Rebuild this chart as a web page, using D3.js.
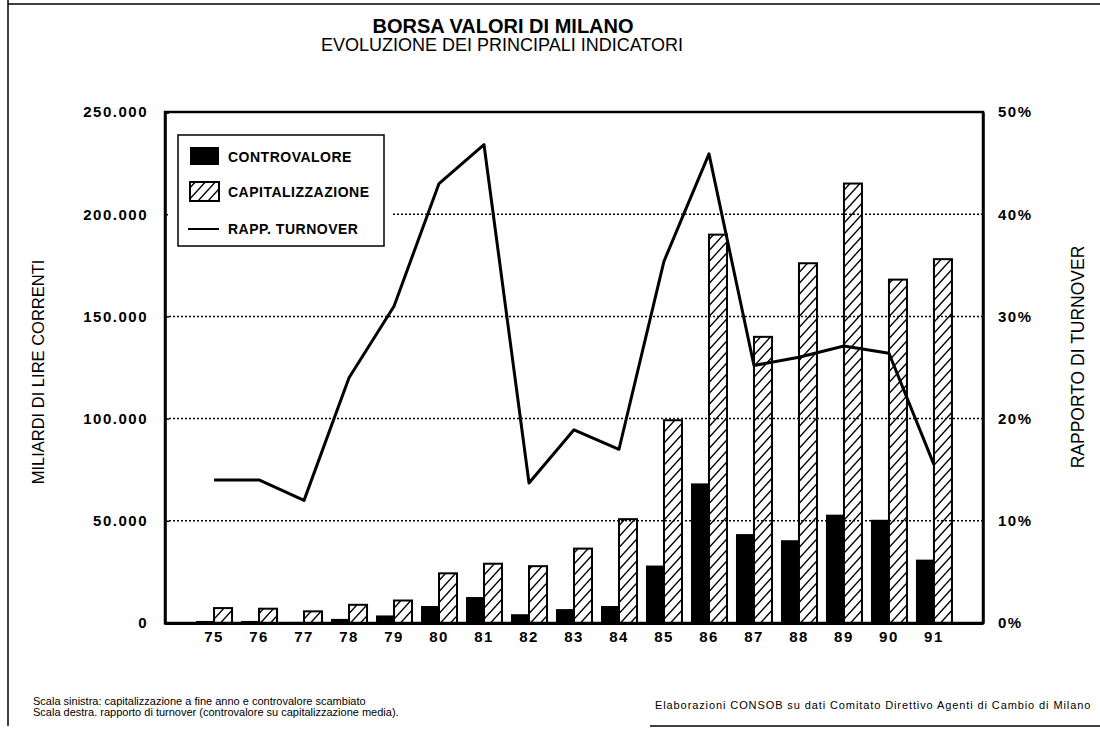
<!DOCTYPE html>
<html>
<head>
<meta charset="utf-8">
<script src="https://cdn.jsdelivr.net/npm/d3@7"></script>
<style>
  body { margin: 0; background: #fff; }
  svg { display: block; font-family: "Liberation Sans", Arial, sans-serif; }
</style>
</head>
<body>
<svg width="1100" height="731"></svg>
<script>
// values
const years = ["75", "76", "77", "78", "79", "80", "81", "82", "83", "84", "85", "86", "87", "88", "89", "90", "91"];
const controvalore = [1000, 1000, 500, 2000, 3700, 8300, 12700, 4300, 6800, 8300, 28100, 68300, 43500, 40500, 53000, 50500, 31000];
const capitalizzazione = [7300, 7000, 5700, 8900, 11000, 24300, 29000, 27800, 36400, 50800, 99200, 190000, 140000, 176000, 215000, 168000, 178000];
const turnover = [14, 14, 12, 24, 31, 43, 46.8, 13.7, 18.9, 17, 35.4, 45.9, 25.2, 26, 27.1, 26.4, 15.5];

const leftTicks = [0, 50000, 100000, 150000, 200000, 250000];
const rightTicks = [0, 10, 20, 30, 40, 50];
const seriesNames = ["CONTROVALORE", "CAPITALIZZAZIONE", "RAPP. TURNOVER"];

const svg = d3.select("svg");
const margin = { top: 112, right: 117, bottom: 108, left: 165 };
const width = 1100 - margin.left - margin.right;
const height = 731 - margin.top - margin.bottom;

const defs = svg.append("defs");
defs.append("pattern")
    .attr("id", "hatch")
    .attr("patternUnits", "userSpaceOnUse")
    .attr("width", 10)
    .attr("height", 11)
  .append("path")
    .attr("d", "M0,11 L10,0 M-2,2 L1,-1 M9,12 L12,9")
    .attr("stroke", "#000")
    .attr("stroke-width", 1.4);

// page frame
svg.append("line").attr("x1", 8).attr("x2", 8).attr("y1", 0).attr("y2", 726).attr("stroke", "#000").attr("stroke-width", 1.5);
svg.append("line").attr("x1", 8).attr("x2", 1100).attr("y1", 4).attr("y2", 4).attr("stroke", "#000").attr("stroke-width", 1.5);
svg.append("line").attr("x1", 650).attr("x2", 1100).attr("y1", 726).attr("y2", 726).attr("stroke", "#000").attr("stroke-width", 1.5);

// titles
svg.append("text")
    .attr("x", 503).attr("y", 33)
    .attr("text-anchor", "middle")
    .style("font-size", "20px").style("font-weight", "bold")
    .text("BORSA VALORI DI MILANO");
svg.append("text")
    .attr("x", 502).attr("y", 51)
    .attr("text-anchor", "middle")
    .style("font-size", "18px")
    .text("EVOLUZIONE DEI PRINCIPALI INDICATORI");

const chart = svg.append("g")
    .attr("transform", `translate(${margin.left},${margin.top})`);

const x = d3.scaleBand().domain(years).range([0, width]).paddingInner(0.2).paddingOuter(0.69);
const xSub = d3.scaleBand().domain(["c", "k"]).range([0, x.bandwidth()]);
const y = d3.scaleLinear().domain([0, 250000]).range([height, 0]);
const yPct = d3.scaleLinear().domain([0, 50]).range([height, 0]);

// dotted grid
chart.selectAll(".grid")
    .data(leftTicks.slice(1, -1))
    .enter().append("line")
    .attr("x1", 0).attr("x2", width)
    .attr("y1", d => y(d)).attr("y2", d => y(d))
    .attr("stroke", "#000")
    .attr("stroke-width", 1.5)
    .attr("stroke-dasharray", "2,2");

// bars
chart.selectAll(".cv")
    .data(years)
    .enter().append("rect")
    .attr("x", d => x(d) + xSub("c"))
    .attr("y", (d, i) => y(controvalore[i]))
    .attr("width", xSub.bandwidth())
    .attr("height", (d, i) => height - y(controvalore[i]))
    .attr("fill", "#000");

chart.selectAll(".cap")
    .data(years)
    .enter().append("rect")
    .attr("x", d => x(d) + xSub("k"))
    .attr("y", (d, i) => y(capitalizzazione[i]))
    .attr("width", xSub.bandwidth())
    .attr("height", (d, i) => height - y(capitalizzazione[i]))
    .attr("fill", "url(#hatch)")
    .attr("stroke", "#000")
    .attr("stroke-width", 2);

// turnover line
const line = d3.line()
    .x((d, i) => x(years[i]) + x.bandwidth() / 2)
    .y(d => yPct(d));
chart.append("path")
    .datum(turnover)
    .attr("d", line)
    .attr("fill", "none")
    .attr("stroke", "#000")
    .attr("stroke-width", 3)
    .attr("stroke-linejoin", "round");

// plot frame
chart.append("rect")
    .attr("width", width).attr("height", height)
    .attr("fill", "none").attr("stroke", "#000").attr("stroke-width", 2.5);

// axes
const fmt = d => d === 0 ? "0" : d3.format(",")(d).replace(/,/g, ".");
const yAxis = chart.append("g")
    .call(d3.axisLeft(y).tickValues(leftTicks).tickFormat(fmt).tickSize(-4).tickPadding(17));
const yAxisR = chart.append("g")
    .attr("transform", `translate(${width},0)`)
    .call(d3.axisRight(yPct).tickValues(rightTicks).tickFormat(d => d + "%").tickSize(0).tickPadding(15));
const xAxis = chart.append("g")
    .attr("transform", `translate(0,${height})`)
    .call(d3.axisBottom(x).tickSize(0).tickPadding(8));

[yAxis, yAxisR, xAxis].forEach(g => {
    g.select(".domain").attr("stroke-width", 2.5);
    g.selectAll(".tick line").attr("stroke-width", 1.5);
    g.selectAll("text")
        .style("font-family", "'Liberation Sans', Arial, sans-serif")
        .style("font-size", "15px")
        .style("font-weight", "bold")
        .style("letter-spacing", "1.5px")
        .attr("fill", "#000");
});
xAxis.select(".domain").attr("stroke-width", 3);

// axis titles
svg.append("text")
    .attr("transform", "translate(44,372) rotate(-90)")
    .attr("text-anchor", "middle")
    .style("font-size", "16.5px")
    .text("MILIARDI DI LIRE CORRENTI");
svg.append("text")
    .attr("transform", "translate(1084,357) rotate(-90)")
    .attr("text-anchor", "middle")
    .style("font-size", "17.5px")
    .text("RAPPORTO DI TURNOVER");

// legend
chart.append("rect")
    .attr("x", 3).attr("y", 15).attr("width", 225).attr("height", 120)
    .attr("fill", "#fff");
const legend = svg.append("g").attr("transform", "translate(178,135)");
legend.append("rect")
    .attr("width", 206).attr("height", 111)
    .attr("fill", "#fff").attr("stroke", "#000").attr("stroke-width", 1.5);
legend.append("rect").attr("x", 12).attr("y", 12).attr("width", 29).attr("height", 18).attr("fill", "#000");
legend.append("rect").attr("x", 12).attr("y", 47).attr("width", 29).attr("height", 19)
    .attr("fill", "url(#hatch)").attr("stroke", "#000").attr("stroke-width", 2);
legend.append("line").attr("x1", 10).attr("x2", 41).attr("y1", 94).attr("y2", 94)
    .attr("stroke", "#000").attr("stroke-width", 2);
legend.selectAll(".ltxt")
    .data(seriesNames)
    .enter().append("text")
    .attr("x", 50)
    .attr("y", (d, i) => [22, 57, 94][i])
    .attr("dy", "0.35em")
    .style("font-size", "14px")
    .style("font-weight", "bold")
    .style("letter-spacing", "0.5px")
    .text(d => d);

// notes
svg.append("text").attr("x", 33).attr("y", 705).style("font-size", "11px")
    .text("Scala sinistra: capitalizzazione a fine anno e controvalore scambiato");
svg.append("text").attr("x", 33).attr("y", 716).style("font-size", "11px")
    .text("Scala destra. rapporto di turnover (controvalore su capitalizzazione media).");
svg.append("text").attr("x", 655).attr("y", 709).style("font-size", "11px").style("letter-spacing", "0.9px")
    .text("Elaborazioni CONSOB su dati Comitato Direttivo Agenti di Cambio di Milano");
</script>
</body>
</html>
